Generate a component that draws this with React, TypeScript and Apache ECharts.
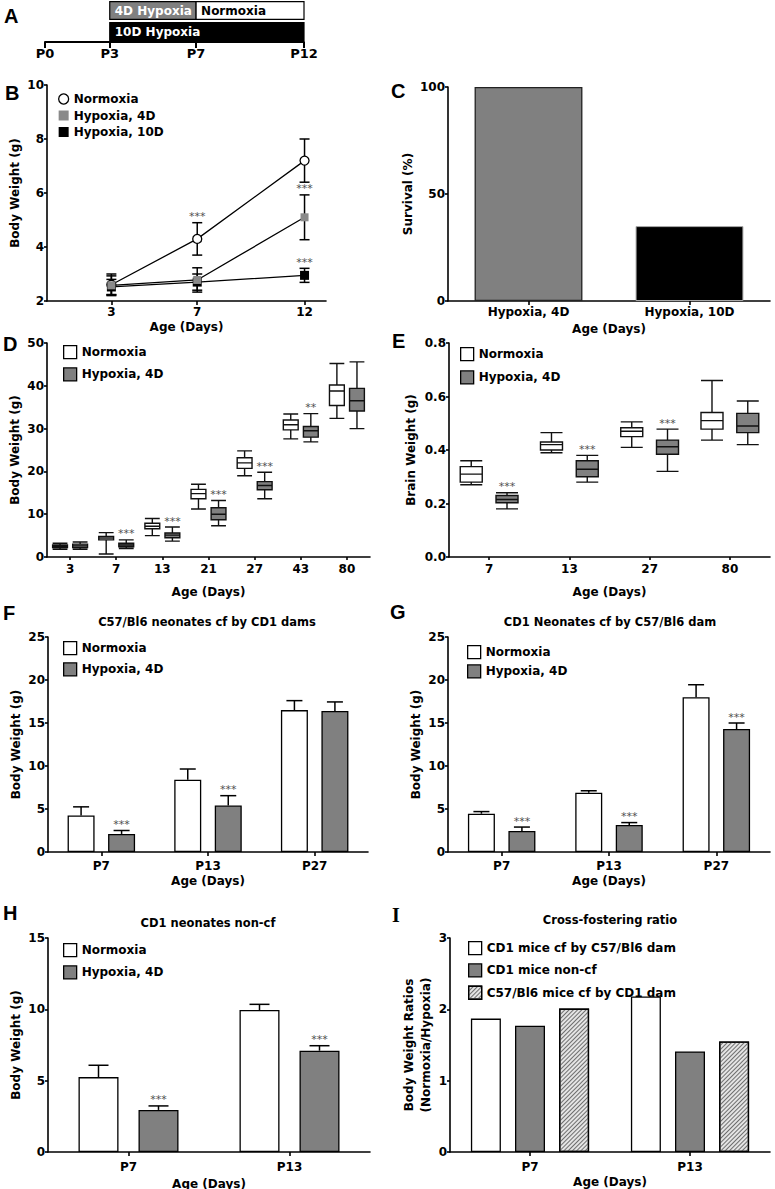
import React, { useEffect, useRef } from 'react';
import * as echarts from 'echarts';

// ---------------- DATA ----------------
// A: timeline
const timelineTicks = [0, 3, 7, 12];
const segLabels = ['4D Hypoxia', 'Normoxia', '10D Hypoxia'];
const segStart = [3, 7, 3];
const segEnd = [7, 12, 12];
const segRow = [1, 1, 0];

// B: body weight over time
const bTicks = [3, 7, 12];
const bDays = [3, 7, 12];
const bNames = ['Normoxia', 'Hypoxia, 4D', 'Hypoxia, 10D'];
const bNormMean = [2.6, 4.3, 7.2];
const bNormErr = [0.4, 0.6, 0.8];
const bNormSig = ['', '***', ''];
const bHyp4Mean = [2.58, 2.78, 5.1];
const bHyp4Err = [0.35, 0.45, 0.83];
const bHyp4Sig = ['', '', '***'];
const bHyp10Mean = [2.52, 2.7, 2.95];
const bHyp10Err = [0.28, 0.3, 0.26];
const bHyp10Sig = ['', '', '***'];

// C: survival
const cCats = ['Hypoxia, 4D', 'Hypoxia, 10D'];
const cSurvival = [100, 35];

// D: body weight boxplots [min, Q1, median, Q3, max]
const dCats = ['3', '7', '13', '21', '27', '43', '80'];
const dNorm = [
  [1.8, 2.2, 2.5, 2.8, 3.2],
  [0.7, 4.0, 4.4, 4.8, 5.7],
  [5.0, 6.6, 7.2, 7.9, 9.0],
  [11.2, 13.6, 14.8, 15.8, 17.0],
  [19.0, 20.7, 22.0, 23.2, 24.8],
  [27.6, 29.7, 30.9, 32.0, 33.4],
  [32.4, 35.4, 38.8, 40.2, 45.2],
];
const dHyp = [
  [1.8, 2.2, 2.6, 3.0, 3.5],
  [2.0, 2.4, 2.8, 3.2, 4.0],
  [3.7, 4.5, 5.1, 5.6, 7.0],
  [7.3, 8.7, 10.0, 11.5, 13.2],
  [13.6, 15.7, 16.7, 17.6, 19.8],
  [26.9, 28.0, 29.5, 30.5, 33.5],
  [30.0, 34.1, 36.5, 39.4, 45.6],
];
const dHypSig = ['', '***', '***', '***', '***', '**', ''];

// E: brain weight boxplots
const eCats = ['7', '13', '27', '80'];
const eNorm = [
  [0.27, 0.28, 0.31, 0.338, 0.36],
  [0.39, 0.4, 0.42, 0.43, 0.465],
  [0.41, 0.45, 0.47, 0.483, 0.505],
  [0.437, 0.478, 0.51, 0.54, 0.66],
];
const eHyp = [
  [0.18, 0.203, 0.215, 0.23, 0.24],
  [0.28, 0.3, 0.328, 0.36, 0.38],
  [0.32, 0.384, 0.412, 0.437, 0.478],
  [0.42, 0.465, 0.49, 0.537, 0.583],
];
const eHypSig = ['***', '***', '***', ''];

// F: C57/Bl6 neonates cf by CD1 dams
const fCats = ['P7', 'P13', 'P27'];
const fNormMean = [4.25, 8.4, 16.5];
const fNormErr = [1.0, 1.25, 1.1];
const fHypMean = [2.1, 5.4, 16.4];
const fHypErr = [0.4, 1.15, 1.05];
const fHypSig = ['***', '***', ''];

// G: CD1 neonates cf by C57/Bl6 dam
const gCats = ['P7', 'P13', 'P27'];
const gNormMean = [4.45, 6.9, 18.0];
const gNormErr = [0.25, 0.22, 1.45];
const gHypMean = [2.45, 3.15, 14.3];
const gHypErr = [0.45, 0.27, 0.7];
const gHypSig = ['***', '***', '***'];

// H: CD1 neonates non-cf
const hCats = ['P7', 'P13'];
const hNormMean = [5.25, 9.95];
const hNormErr = [0.83, 0.4];
const hHypMean = [2.95, 7.1];
const hHypErr = [0.28, 0.35];
const hHypSig = ['***', '***'];

// I: cross-fostering ratio
const iCats = ['P7', 'P13'];
const iNames = ['CD1 mice cf by C57/Bl6 dam', 'CD1 mice non-cf', 'C57/Bl6 mice cf by CD1 dam'];
const iCd1Cf = [1.87, 2.18];
const iCd1NonCf = [1.77, 1.41];
const iC57Cf = [2.01, 1.55];

const groupLabels = ['Normoxia', 'Hypoxia, 4D'];

// ---------------- STYLE HELPERS ----------------
const FONT = '"DejaVu Sans", Verdana, sans-serif';
const BLACK = '#000';
const GRAY = '#808080';
const STAR = '#505050';
const HATCH = {
  symbol: 'rect',
  symbolSize: 1,
  color: '#6e6e6e',
  dashArrayX: [1, 0],
  dashArrayY: [1, 2],
  rotation: -Math.PI / 4,
};

function axis(o: any) {
  return {
    gridIndex: o.grid,
    type: o.type,
    data: o.data,
    min: o.min,
    max: o.max,
    interval: o.interval,
    show: o.show ?? true,
    name: o.name,
    nameLocation: 'middle',
    nameGap: o.nameGap,
    nameRotate: o.nameRotate,
    nameTextStyle: { color: BLACK, fontFamily: FONT, fontWeight: 'bold', fontSize: 12, lineHeight: 17 },
    axisLine: { show: true, onZero: false, lineStyle: { color: BLACK, width: o.lineWidth ?? 1.6 } },
    axisTick: {
      show: o.tick !== false,
      length: o.tickLen ?? 4,
      alignWithLabel: true,
      customValues: o.custom,
      lineStyle: { color: BLACK, width: o.lineWidth ?? 1.6 },
    },
    axisLabel: {
      color: BLACK,
      fontFamily: FONT,
      fontWeight: 'bold',
      fontSize: o.fontSize ?? 12,
      margin: o.margin ?? 4,
      customValues: o.custom,
      formatter: o.formatter,
    },
    splitLine: { show: false },
  };
}

function starEl(text: string, x: number, y: number) {
  return {
    type: 'text',
    x,
    y: y - 6,
    style: {
      text,
      fill: STAR,
      stroke: 'none',
      font: 'normal 11px ' + FONT,
      textAlign: 'center',
      textVerticalAlign: 'middle',
    },
  };
}

function errSeries(name: string, grid: number, xs: any[], means: number[], errs: number[], sigs: string[] | null, offset: (api: any) => number, both: boolean, capHalf: number) {
  return {
    type: 'custom',
    name,
    xAxisIndex: grid,
    yAxisIndex: grid,
    z: 3,
    silent: true,
    itemStyle: { color: STAR },
    encode: { x: 0, y: 1 },
    data: xs.map((x, i) => [x, means[i], errs[i]]),
    renderItem: (params: any, api: any) => {
      const x = api.value(0);
      const m = api.value(1);
      const e = api.value(2);
      const off = offset(api);
      const pt = api.coord([x, m + e]);
      const pb = api.coord([x, both ? m - e : m]);
      const cx = pt[0] + off;
      const ls = { stroke: BLACK, lineWidth: 1.5, fill: null };
      const children: any[] = [
        { type: 'line', shape: { x1: cx, y1: pb[1], x2: cx, y2: pt[1] }, style: ls },
        { type: 'line', shape: { x1: cx - capHalf, y1: pt[1], x2: cx + capHalf, y2: pt[1] }, style: ls },
      ];
      if (both) children.push({ type: 'line', shape: { x1: cx - capHalf, y1: pb[1], x2: cx + capHalf, y2: pb[1] }, style: ls });
      const s = sigs ? sigs[params.dataIndex] : '';
      if (s) children.push(starEl(s, cx, pt[1]));
      return { type: 'group', children };
    },
  };
}

function boxOffset(api: any) {
  const bw = api.size([1, 0])[0];
  const avail = bw * 0.8 - 2;
  const gap = (avail / 2) * 0.3;
  const w = (avail - gap) / 2;
  return (gap + w) / 2;
}

function starSeries(name: string, grid: number, boxes: number[][], sigs: string[]) {
  return {
    type: 'custom',
    name,
    xAxisIndex: grid,
    yAxisIndex: grid,
    z: 4,
    silent: true,
    itemStyle: { color: STAR },
    encode: { x: 0, y: 1 },
    data: boxes.map((b, i) => [i, b[4]]),
    renderItem: (params: any, api: any) => {
      const s = sigs[params.dataIndex];
      if (!s) return { type: 'group', children: [] };
      const p = api.coord([api.value(0), api.value(1)]);
      return { type: 'group', children: [starEl(s, p[0] + boxOffset(api), p[1])] };
    },
  };
}

const legendText = { color: BLACK, fontFamily: FONT, fontWeight: 'bold', fontSize: 12 };
function legend(items: any[], left: number, top: number, spacing: number, size: number) {
  return {
    orient: 'vertical',
    left,
    top,
    itemWidth: size,
    itemHeight: size,
    itemGap: spacing - 14,
    selectedMode: false,
    textStyle: legendText,
    formatter: (n: string) => n.split('|')[1],
    data: items,
  };
}
const whiteItem = { color: '#fff', borderColor: BLACK, borderWidth: 1.3 };
const grayItem = { color: GRAY, borderColor: BLACK, borderWidth: 1.3 };

function barPair(p: string, grid: number, norm: number[], hyp: number[], width: number) {
  return [
    { type: 'bar', name: p + '|' + groupLabels[0], xAxisIndex: grid, yAxisIndex: grid, data: norm, barWidth: width, barGap: '50%', itemStyle: whiteItem, emphasis: { disabled: true } },
    { type: 'bar', name: p + '|' + groupLabels[1], xAxisIndex: grid, yAxisIndex: grid, data: hyp, barWidth: width, barGap: '50%', itemStyle: grayItem, emphasis: { disabled: true } },
  ];
}

function buildOption() {
  const grids = [
    { left: 45, top: 0, width: 259, height: 42 },
    { left: 47, top: 85, width: 279, height: 216 },
    { left: 448, top: 87, width: 322, height: 214 },
    { left: 47, top: 343, width: 323, height: 214 },
    { left: 449, top: 343, width: 321, height: 214 },
    { left: 48, top: 637, width: 320, height: 215 },
    { left: 448, top: 637, width: 322, height: 215 },
    { left: 48, top: 938, width: 322, height: 214 },
    { left: 450, top: 938, width: 320, height: 214 },
  ].map((g) => ({ ...g, containLabel: false, outerBoundsMode: 'none' }));

  const xAxis = [
    axis({ grid: 0, type: 'value', min: 0, max: 12, custom: timelineTicks, formatter: (v: number) => 'P' + v, fontSize: 13, tickLen: 6, lineWidth: 2, margin: 5 }),
    axis({ grid: 1, type: 'value', min: 0, max: 13, custom: bTicks, name: 'Age (Days)', nameGap: 17, margin: 5 }),
    axis({ grid: 2, type: 'category', data: cCats, name: 'Age (Days)', nameGap: 19, margin: 5 }),
    axis({ grid: 3, type: 'category', data: dCats, name: 'Age (Days)', nameGap: 26, margin: 6, tickLen: 3 }),
    axis({ grid: 4, type: 'category', data: eCats, name: 'Age (Days)', nameGap: 26, margin: 6, tickLen: 3 }),
    axis({ grid: 5, type: 'category', data: fCats, name: 'Age (Days)', nameGap: 18, margin: 8 }),
    axis({ grid: 6, type: 'category', data: gCats, name: 'Age (Days)', nameGap: 18, margin: 8 }),
    axis({ grid: 7, type: 'category', data: hCats, name: 'Age (Days)', nameGap: 23, margin: 9 }),
    axis({ grid: 8, type: 'category', data: iCats, name: 'Age (Days)', nameGap: 18, margin: 9 }),
  ];
  const yAxis = [
    { gridIndex: 0, type: 'category', data: ['10D', '4D'], show: false },
    axis({ grid: 1, type: 'value', min: 2, max: 10, interval: 2, name: 'Body Weight (g)', nameGap: 23, nameRotate: 90, margin: 3, tickLen: 3 }),
    axis({ grid: 2, type: 'value', min: 0, max: 100, interval: 50, name: 'Survival (%)', nameGap: 23, nameRotate: 90, margin: 3, tickLen: 3 }),
    axis({ grid: 3, type: 'value', min: 0, max: 50, interval: 10, name: 'Body Weight (g)', nameGap: 22, nameRotate: 90, margin: 3, tickLen: 3 }),
    axis({ grid: 4, type: 'value', min: 0, max: 0.8, interval: 0.2, name: 'Brain Weight (g)', nameGap: 30, nameRotate: 90, margin: 3, tickLen: 3, formatter: (v: number) => v.toFixed(1) }),
    axis({ grid: 5, type: 'value', min: 0, max: 25, interval: 5, name: 'Body Weight (g)', nameGap: 24, nameRotate: 90, margin: 3, tickLen: 3 }),
    axis({ grid: 6, type: 'value', min: 0, max: 25, interval: 5, name: 'Body Weight (g)', nameGap: 23, nameRotate: 90, margin: 3, tickLen: 3 }),
    axis({ grid: 7, type: 'value', min: 0, max: 15, interval: 5, name: 'Body Weight (g)', nameGap: 24, nameRotate: 90, margin: 3, tickLen: 3 }),
    axis({ grid: 8, type: 'value', min: 0, max: 3, interval: 1, name: 'Body Weight Ratios\n(Normoxia/Hypoxia)', nameGap: 12, nameRotate: 90, margin: 3, tickLen: 3 }),
  ];

  const segFill = ['#808080', '#ffffff', '#000000'];
  const segText = ['#ffffff', '#000000', '#ffffff'];

  const series: any[] = [
    // A timeline
    {
      type: 'custom',
      name: 'A|timeline',
      xAxisIndex: 0,
      yAxisIndex: 0,
      encode: { x: [0, 1], y: 2 },
      silent: true,
      data: segStart.map((s, i) => [s, segEnd[i], segRow[i]]),
      renderItem: (params: any, api: any) => {
        const i = params.dataIndex;
        const p0 = api.coord([api.value(0), api.value(2)]);
        const p1 = api.coord([api.value(1), api.value(2)]);
        const h = api.size([0, 1])[1] * 0.84;
        return {
          type: 'group',
          children: [
            { type: 'rect', shape: { x: p0[0], y: p0[1] - h / 2, width: p1[0] - p0[0], height: h }, style: { fill: segFill[i], stroke: BLACK, lineWidth: 1.2 } },
            { type: 'text', x: p0[0] + 5, y: p0[1], style: { text: segLabels[i], fill: segText[i], font: 'bold 12px ' + FONT, textAlign: 'left', textVerticalAlign: 'middle' } },
          ],
        };
      },
    },
    // B
    errSeries('B|eN', 1, bDays, bNormMean, bNormErr, bNormSig, () => 0, true, 5),
    errSeries('B|e4', 1, bDays, bHyp4Mean, bHyp4Err, bHyp4Sig, () => 0, true, 5),
    errSeries('B|e10', 1, bDays, bHyp10Mean, bHyp10Err, bHyp10Sig, () => 0, true, 5),
    {
      type: 'line', name: 'B|' + bNames[0], xAxisIndex: 1, yAxisIndex: 1, z: 5,
      data: bDays.map((d, i) => [d, bNormMean[i]]),
      symbol: 'circle', symbolSize: 9,
      itemStyle: { color: '#fff', borderColor: BLACK, borderWidth: 1.3 },
      lineStyle: { color: BLACK, width: 1.3 }, emphasis: { disabled: true },
    },
    {
      type: 'line', name: 'B|' + bNames[2], xAxisIndex: 1, yAxisIndex: 1, z: 5,
      data: bDays.map((d, i) => [d, bHyp10Mean[i]]),
      symbol: 'rect', symbolSize: 9,
      itemStyle: { color: BLACK },
      lineStyle: { color: BLACK, width: 1.3 }, emphasis: { disabled: true },
    },
    {
      type: 'line', name: 'B|' + bNames[1], xAxisIndex: 1, yAxisIndex: 1, z: 5,
      data: bDays.map((d, i) => [d, bHyp4Mean[i]]),
      symbol: 'rect', symbolSize: 8,
      itemStyle: { color: '#8a8a8a' },
      lineStyle: { color: BLACK, width: 1.3 }, emphasis: { disabled: true },
    },
    // C
    {
      type: 'bar', name: 'C|survival', xAxisIndex: 2, yAxisIndex: 2, barWidth: '67%',
      emphasis: { disabled: true },
      data: cSurvival.map((v, i) => ({
        value: v,
        itemStyle: i === 0 ? { color: GRAY, borderColor: '#222', borderWidth: 1.3 } : { color: BLACK, borderColor: '#aaa', borderWidth: 1 },
      })),
    },
    // D
    { type: 'boxplot', name: 'D|' + groupLabels[0], xAxisIndex: 3, yAxisIndex: 3, data: dNorm, boxWidth: [7, 16], itemStyle: { color: '#fff', borderColor: '#111', borderWidth: 1.4 }, emphasis: { disabled: true } },
    { type: 'boxplot', name: 'D|' + groupLabels[1], xAxisIndex: 3, yAxisIndex: 3, data: dHyp, boxWidth: [7, 16], itemStyle: { color: GRAY, borderColor: '#111', borderWidth: 1.4 }, emphasis: { disabled: true } },
    starSeries('D|stars', 3, dHyp, dHypSig),
    // E
    { type: 'boxplot', name: 'E|' + groupLabels[0], xAxisIndex: 4, yAxisIndex: 4, data: eNorm, boxWidth: [7, 22], itemStyle: { color: '#fff', borderColor: '#111', borderWidth: 1.4 }, emphasis: { disabled: true } },
    { type: 'boxplot', name: 'E|' + groupLabels[1], xAxisIndex: 4, yAxisIndex: 4, data: eHyp, boxWidth: [7, 22], itemStyle: { color: GRAY, borderColor: '#111', borderWidth: 1.4 }, emphasis: { disabled: true } },
    starSeries('E|stars', 4, eHyp, eHypSig),
    // F
    ...barPair('F', 5, fNormMean, fHypMean, 27),
    errSeries('F|eN', 5, fCats.map((_, i) => i), fNormMean, fNormErr, null, () => -20.25, false, 8),
    errSeries('F|eH', 5, fCats.map((_, i) => i), fHypMean, fHypErr, fHypSig, () => 20.25, false, 8),
    // G
    ...barPair('G', 6, gNormMean, gHypMean, 27),
    errSeries('G|eN', 6, gCats.map((_, i) => i), gNormMean, gNormErr, null, () => -20.25, false, 8),
    errSeries('G|eH', 6, gCats.map((_, i) => i), gHypMean, gHypErr, gHypSig, () => 20.25, false, 8),
    // H
    ...barPair('H', 7, hNormMean, hHypMean, 40),
    errSeries('H|eN', 7, hCats.map((_, i) => i), hNormMean, hNormErr, null, () => -30, false, 10),
    errSeries('H|eH', 7, hCats.map((_, i) => i), hHypMean, hHypErr, hHypSig, () => 30, false, 10),
    // I
    { type: 'bar', name: 'I|' + iNames[0], xAxisIndex: 8, yAxisIndex: 8, data: iCd1Cf, barWidth: 30, barGap: '47%', itemStyle: whiteItem, emphasis: { disabled: true } },
    { type: 'bar', name: 'I|' + iNames[1], xAxisIndex: 8, yAxisIndex: 8, data: iCd1NonCf, barWidth: 30, barGap: '47%', itemStyle: grayItem, emphasis: { disabled: true } },
    { type: 'bar', name: 'I|' + iNames[2], xAxisIndex: 8, yAxisIndex: 8, data: iC57Cf, barWidth: 30, barGap: '47%', itemStyle: { color: '#e4e4e4', borderColor: BLACK, borderWidth: 1.3, decal: HATCH }, emphasis: { disabled: true } },
  ];

  const legends = [
    legend([
      { name: 'B|' + bNames[0], icon: 'circle', itemStyle: { color: '#fff', borderColor: BLACK, borderWidth: 1.3 } },
      { name: 'B|' + bNames[1], icon: 'rect', itemStyle: { color: '#8a8a8a', borderWidth: 0 } },
      { name: 'B|' + bNames[2], icon: 'rect', itemStyle: { color: BLACK, borderWidth: 0 } },
    ], 53, 88, 18.5, 10),
    legend([
      { name: 'D|' + groupLabels[0], icon: 'rect', itemStyle: whiteItem },
      { name: 'D|' + groupLabels[1], icon: 'rect', itemStyle: grayItem },
    ], 58, 340, 22, 13),
    legend([
      { name: 'E|' + groupLabels[0], icon: 'rect', itemStyle: whiteItem },
      { name: 'E|' + groupLabels[1], icon: 'rect', itemStyle: grayItem },
    ], 455, 342, 23, 13),
    legend([
      { name: 'F|' + groupLabels[0], icon: 'rect', itemStyle: whiteItem },
      { name: 'F|' + groupLabels[1], icon: 'rect', itemStyle: grayItem },
    ], 58, 636, 21, 13),
    legend([
      { name: 'G|' + groupLabels[0], icon: 'rect', itemStyle: whiteItem },
      { name: 'G|' + groupLabels[1], icon: 'rect', itemStyle: grayItem },
    ], 462, 640, 19, 13),
    legend([
      { name: 'H|' + groupLabels[0], icon: 'rect', itemStyle: whiteItem },
      { name: 'H|' + groupLabels[1], icon: 'rect', itemStyle: grayItem },
    ], 58, 938, 22, 13),
    legend([
      { name: 'I|' + iNames[0], icon: 'rect', itemStyle: whiteItem },
      { name: 'I|' + iNames[1], icon: 'rect', itemStyle: grayItem },
      { name: 'I|' + iNames[2], icon: 'rect', itemStyle: { color: '#e4e4e4', borderColor: BLACK, borderWidth: 1.3, decal: HATCH } },
    ], 463, 936, 22, 13),
  ];

  const letter = (t: string, x: number, y: number, serif = false) => ({
    type: 'text',
    x,
    y,
    style: {
      text: t,
      fill: BLACK,
      font: 'bold 20px ' + (serif ? '"Liberation Serif", serif' : '"Liberation Sans", Arial, sans-serif'),
      textAlign: 'left',
      textVerticalAlign: 'middle',
    },
  });
  const title = (t: string, x: number, y: number) => ({
    type: 'text',
    x,
    y,
    style: {
      text: t,
      fill: BLACK,
      font: 'bold 11.5px ' + FONT,
      textAlign: 'center',
      textVerticalAlign: 'middle',
    },
  });

  return {
    animation: false,
    backgroundColor: '#fff',
    grid: grids,
    xAxis,
    yAxis,
    series,
    legend: legends,
    graphic: {
      elements: [
        letter('A', 4, 16),
        letter('B', 5, 93),
        letter('C', 391, 91),
        letter('D', 3, 344),
        letter('E', 392, 341),
        letter('F', 3, 613),
        letter('G', 390, 612),
        letter('H', 3, 913),
        letter('I', 392, 915, true),
        title('C57/Bl6 neonates cf by CD1 dams', 207, 622),
        title('CD1 Neonates cf by C57/Bl6 dam', 610, 622),
        title('CD1 neonates non-cf', 208, 923),
        title('Cross-fostering ratio', 610, 920),
      ],
    },
  };
}

export default function App() {
  const ref = useRef<HTMLDivElement>(null);
  useEffect(() => {
    if (!ref.current) return;
    const chart = echarts.init(ref.current, null, { renderer: 'svg' });
    chart.setOption(buildOption() as any);
    return () => chart.dispose();
  }, []);
  return (
    <div
      ref={ref}
      style={{ position: 'absolute', left: 0, top: 0, width: 775, height: 1189, background: '#fff' }}
    />
  );
}
